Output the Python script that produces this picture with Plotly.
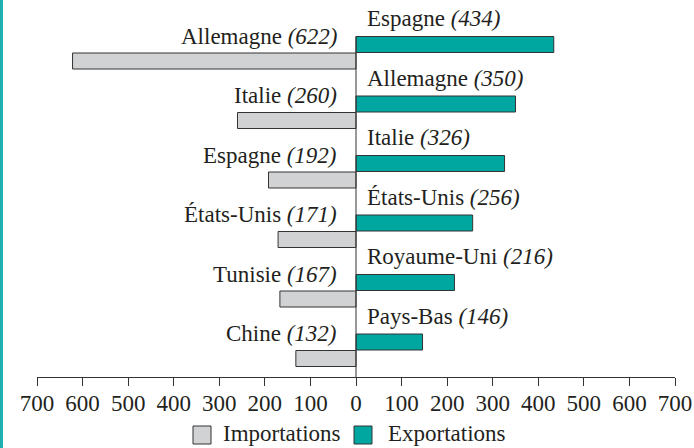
import plotly.graph_objects as go

imp_countries = ["Allemagne", "Italie", "Espagne", "États-Unis", "Tunisie", "Chine"]
imp_values = [622, 260, 192, 171, 167, 132]
exp_countries = ["Espagne", "Allemagne", "Italie", "États-Unis", "Royaume-Uni", "Pays-Bas"]
exp_values = [434, 350, 326, 256, 216, 146]
tick_vals = [-700, -600, -500, -400, -300, -200, -100, 0, 100, 200, 300, 400, 500, 600, 700]
tick_text = ["700", "600", "500", "400", "300", "200", "100", "0", "100", "200", "300", "400", "500", "600", "700"]
legend_names = ["Importations", "Exportations"]

GRAY = "#D1D2D4"
TEAL = "#00A7A1"
EDGE = "#333333"
DARK = "#231F20"
FONT = "Liberation Serif"
FS = 23

W, H = 694, 448
L, R, T, B = 37, 19, 0, 71
pw = W - L - R
plot_h = H - T - B
pitch = 59.5  # px per row
y_range_bot = plot_h / pitch

exp_y = [k + 44.5 / pitch for k in range(len(exp_values))]
imp_y = [k + 61.0 / pitch for k in range(len(imp_values))]
bar_w = 16.0 / pitch

fig = go.Figure()
fig.add_trace(go.Bar(
    x=[-v for v in imp_values], y=imp_y, orientation="h", width=bar_w,
    name=legend_names[0], marker=dict(color=GRAY, line=dict(color=EDGE, width=1)),
    hoverinfo="skip", showlegend=False,
))
fig.add_trace(go.Bar(
    x=exp_values, y=exp_y, orientation="h", width=bar_w,
    name=legend_names[1], marker=dict(color=TEAL, line=dict(color=EDGE, width=1)),
    hoverinfo="skip", showlegend=False,
))

for c, v, y in zip(imp_countries, imp_values, imp_y):
    fig.add_annotation(x=0, y=y, text=f"{c} <i>({v})</i>", showarrow=False,
                       xanchor="right", yanchor="middle", xshift=-17, yshift=25,
                       font=dict(family=FONT, size=FS, color=DARK))
for c, v, y in zip(exp_countries, exp_values, exp_y):
    fig.add_annotation(x=0, y=y, text=f"{c} <i>({v})</i>", showarrow=False,
                       xanchor="left", yanchor="middle", xshift=9, yshift=26,
                       font=dict(family=FONT, size=FS, color=DARK))

# zero line
fig.add_shape(type="line", x0=0, x1=0, y0=exp_y[0] - bar_w / 2, y1=y_range_bot,
              xref="x", yref="y", line=dict(color=EDGE, width=1))
# left decorative border
fig.add_shape(type="rect", xref="paper", yref="paper",
              x0=-L / pw, x1=-(L - 3) / pw, y0=-B / plot_h, y1=1 + T / plot_h,
              fillcolor="#1FB1B1", line=dict(width=0), layer="above")


def px_x(p):
    return (p - L) / pw


def px_y(p):
    return (plot_h + T - p) / plot_h


# custom legend (square swatches + labels)
for name, col, sx, tx in [(legend_names[0], GRAY, 193, 222), (legend_names[1], TEAL, 354, 387)]:
    fig.add_shape(type="rect", xref="paper", yref="paper",
                  x0=px_x(sx), x1=px_x(sx + 18), y0=px_y(444), y1=px_y(426),
                  fillcolor=col, line=dict(color=EDGE, width=1))
    fig.add_annotation(xref="paper", yref="paper", x=px_x(tx), y=px_y(447.5), text=name,
                       showarrow=False, xanchor="left", yanchor="bottom", borderpad=0,
                       font=dict(family=FONT, size=FS, color=DARK))

fig.update_layout(
    width=W, height=H,
    margin=dict(l=L, r=R, t=T, b=B, autoexpand=False),
    paper_bgcolor="white", plot_bgcolor="white",
    barmode="overlay",
    font=dict(family=FONT, size=FS, color=DARK),
    showlegend=False,
    xaxis=dict(range=[-700, 700], tickvals=tick_vals, ticktext=tick_text,
               showgrid=False, zeroline=False, showline=True, linecolor=EDGE,
               linewidth=1, ticks="outside", ticklen=8, tickcolor=EDGE,
               ticklabelstandoff=-3,
               tickfont=dict(family=FONT, size=FS, color=DARK), fixedrange=True),
    yaxis=dict(range=[y_range_bot, 0], showticklabels=False, showgrid=False,
               zeroline=False, showline=False, ticks="", fixedrange=True),
)

fig.write_html("out.html", config={"displayModeBar": False},
               post_script="document.body.style.margin='0';document.body.style.overflow='hidden';")
